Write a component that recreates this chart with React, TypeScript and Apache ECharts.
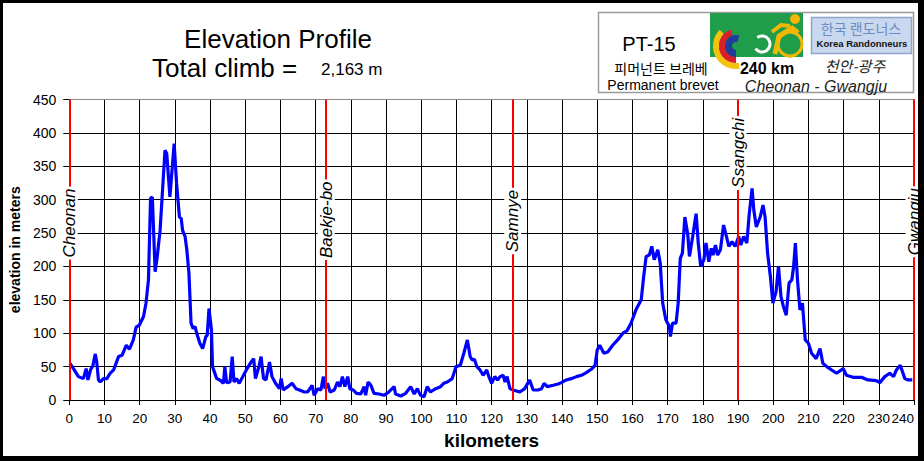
import React, { useEffect, useRef } from "react";
import * as echarts from "echarts";

// ---------- data ----------
const kmPoints: number[] = [
  0.2, 1.2, 2.6, 4, 4.8, 5.3, 6.1, 6.7, 7.4, 7.8, 8.3, 8.8, 9.7, 10.7, 11.6, 12.6, 14, 15, 16.2, 17.1, 18.2, 19, 19.9,
  21.1, 21.8, 22.5, 23.1, 23.6, 24.4, 25, 25.8, 26.5, 27.2, 27.7, 28.6, 29.8, 30.5, 31.3, 31.8, 32.2, 32.9, 33.4, 34,
  34.6, 35.2, 35.7, 36.5, 37.1, 37.9, 38.8, 39.2, 39.7, 40.4, 40.7, 41.9, 42.8, 43.8, 44.2, 44.7, 45.7, 46.3, 46.8,
  47.5, 48.3, 49.3, 50.3, 51.7, 52.4, 52.9, 53.9, 54.5, 55.2, 55.9, 56.9, 57.6, 58.6, 59.7, 60.2, 60.8, 62.1, 63.3,
  64.4, 65.4, 66.8, 67.7, 69, 69.6, 70.6, 71.5, 72.2, 72.7, 73.4, 74.1, 75.3, 76.2, 76.9, 77.6, 78.3, 79.1, 79.7, 80.7,
  81.6, 82.8, 83.8, 84.2, 84.9, 85.7, 86.6, 88, 89.4, 90.8, 92.3, 92.7, 94.2, 95.6, 97, 98, 98.9, 99.8, 100.8, 101.7,
  102.6, 104.1, 105.5, 106.4, 107.4, 108.8, 109.9, 111.1, 112.1, 113.1, 113.9, 114.5, 115.1, 115.8, 116.7, 117.6,
  118.6, 119.2, 120, 120.9, 121.7, 122.4, 123.3, 123.8, 124.4, 125.2, 126.1, 128, 129.4, 130.8, 131.8, 133.2, 134.2,
  134.9, 135.8, 137.5, 138.9, 139.8, 141.2, 142.6, 144.1, 145.5, 146.9, 148.3, 149.4, 150, 150.7, 151.9, 153, 154.4,
  155.8, 157.3, 158.5, 159.6, 161, 162.5, 163.2, 163.9, 164.8, 165.5, 166.2, 167.2, 167.9, 168.6, 169.5, 170.5, 170.8,
  171.4, 172.4, 173, 173.6, 174.2, 174.9, 175.7, 176.2, 177.1, 178.1, 178.7, 179.4, 180.3, 180.9, 181.7, 182.4, 182.9,
  183.6, 184.2, 185, 185.9, 186.7, 187.4, 188.3, 189.2, 190.2, 190.8, 191.6, 192.5, 193.2, 194, 194.5, 195.2, 196.3,
  197.1, 197.7, 198.4, 199.2, 199.9, 200.8, 201.5, 202.2, 202.9, 203.7, 204.5, 205.3, 205.8, 206.3, 206.9, 207.6,
  208.3, 209.1, 210, 210.9, 212.2, 213.3, 214.1, 215.2, 216.6, 218, 219.9, 220.8, 222.7, 225.1, 226.9, 229.3, 230.3,
  231.7, 233.1, 234.2, 235, 236.1, 237.4, 238.3, 239.5,
];
const elevations: number[] = [
  55, 47, 35, 32, 47, 30, 46, 51, 69, 57, 30, 27, 32, 32, 40, 45, 65, 67, 82, 76, 90, 109, 112,
  125, 145, 180, 302, 304, 192, 215, 254, 314, 374, 369, 304, 384, 324, 274, 272, 254, 245, 225, 190,
  115, 107, 110, 95, 85, 77, 95, 97, 137, 105, 50, 32, 30, 25, 50, 26, 27, 65, 27,
  32, 25, 35, 45, 57, 62, 32, 50, 65, 32, 30, 57, 35, 25, 17, 32, 15, 20, 25,
  17, 15, 12, 12, 22, 7, 17, 15, 35, 17, 25, 12, 15, 27, 20, 35, 20, 35, 17, 15,
  10, 9, 20, 7, 27, 22, 10, 9, 7, 12, 20, 9, 6, 10, 20, 9, 17, 7, 5, 20,
  12, 17, 20, 25, 27, 32, 50, 52, 70, 90, 65, 60, 61, 50, 45, 37,
  45, 35, 25, 35, 30, 35, 37, 27, 35, 17, 15, 12, 17, 30, 15, 15, 17,
  25, 20, 22, 24, 26, 30, 32, 35, 37, 41, 46, 52, 75, 82, 70, 72, 82,
  90, 100, 104, 115, 135, 150, 185, 215, 217, 230, 210, 225, 205, 145, 120, 110, 95,
  115, 115, 145, 212, 220, 274, 249, 215, 244, 279, 235, 200, 210, 235, 207, 227, 217,
  232, 217, 225, 262, 245, 230, 237, 230, 245, 232, 245, 235, 279, 317, 284, 259, 274,
  292, 274, 220, 185, 145, 162, 200, 155, 140, 127, 175, 180, 200, 235, 180, 135,
  145, 90, 85, 70, 62, 77, 55, 50, 45, 40, 47, 37, 34, 34, 30, 29, 26,
  35, 40, 35, 45, 52, 32, 30, 30,
];
const checkpointNames: string[] = ["Cheonan", "Baekje-bo", "Samnye", "Ssangchi", "Gwangju"];
const checkpointKm: number[] = [0, 73, 126, 190, 240];
const checkpointLabelElevation: number[] = [265, 270, 268, 370, 267];

const xMin = 0, xMax = 240, xStep = 10;
const yMin = 0, yMax = 450, yStep = 50;

const titleText = "Elevation Profile";
const climbLabel = "Total climb =";
const climbValue = "2,163 m";
const xAxisName = "kilometers";
const yAxisName = "elevation in meters";

const boxTexts = {
  code: "PT-15",
  koreanType: "피머넌트 브레베",
  englishType: "Permanent brevet",
  distance: "240 km",
  koreanRoute: "천안-광주",
  englishRoute: "Cheonan - Gwangju",
  clubKorean: "한국 랜도너스",
  clubEnglish: "Korea Randonneurs",
};

const FONT = 'Arial, "Liberation Sans", Helvetica, sans-serif';
const CJK = '"Noto Sans CJK KR", "Noto Sans", sans-serif';

export default function App() {
  const ref = useRef<HTMLDivElement>(null);
  useEffect(() => {
    document.body.style.margin = "0";
    if (!ref.current) return;
    const chart = echarts.init(ref.current, undefined, { renderer: "svg" });
    const profile = kmPoints.map((k, i) => [k, elevations[i]]);
    const yellow = "#f2b705";
    const baseGraphics: any[] = [
      // titles
      { type: "text", x: 278, y: 39, z: 10, style: { text: titleText, font: `26px ${FONT}`, fill: "#000", align: "center", verticalAlign: "middle" } },
      { type: "text", x: 152, y: 68, z: 10, style: { text: climbLabel, font: `26px ${FONT}`, fill: "#000", align: "left", verticalAlign: "middle" } },
      { type: "text", x: 321, y: 69, z: 10, style: { text: climbValue, font: `17px ${FONT}`, fill: "#000", align: "left", verticalAlign: "middle" } },
      // info box
      { type: "rect", z: 10, shape: { x: 598.5, y: 12.5, width: 315, height: 80 }, style: { fill: "#fff", stroke: "#9a9a9a", lineWidth: 1.5 } },
      { type: "text", x: 649, y: 44, z: 11, style: { text: boxTexts.code, font: `20px ${FONT}`, fill: "#000", align: "center", verticalAlign: "middle" } },
      { type: "text", x: 661, y: 68, z: 11, style: { text: boxTexts.koreanType, font: `14px ${CJK}`, fill: "#000", align: "center", verticalAlign: "middle" } },
      { type: "text", x: 663, y: 85, z: 11, style: { text: boxTexts.englishType, font: `14px ${FONT}`, fill: "#000", align: "center", verticalAlign: "middle" } },
      { type: "text", x: 767, y: 68, z: 11, style: { text: boxTexts.distance, font: `bold 16px ${FONT}`, fill: "#000", align: "center", verticalAlign: "middle" } },
      { type: "text", x: 855, y: 65, z: 11, style: { text: boxTexts.koreanRoute, font: `italic 15px ${CJK}`, fill: "#222", align: "center", verticalAlign: "middle" } },
      { type: "text", x: 816, y: 86, z: 11, style: { text: boxTexts.englishRoute, font: `italic 16px ${FONT}`, fill: "#222", align: "center", verticalAlign: "middle" } },
      // club box
      { type: "rect", z: 11, shape: { x: 811.5, y: 17.5, width: 100, height: 36 }, style: { fill: "#c9d8ee", stroke: "#8ea7c9", lineWidth: 1.5 } },
      { type: "text", x: 861, y: 28, z: 12, style: { text: boxTexts.clubKorean, font: `14px ${CJK}`, fill: "#6a8cc4", align: "center", verticalAlign: "middle" } },
      { type: "text", x: 862, y: 43, z: 12, style: { text: boxTexts.clubEnglish, font: `bold 9.5px ${FONT}`, fill: "#111", align: "center", verticalAlign: "middle" } },
      // green logo
      { type: "rect", z: 11, shape: { x: 710, y: 13, width: 93, height: 44 }, style: { fill: "#1f9d4b" } },
      { type: "sector", z: 12, shape: { cx: 736, cy: 46, r: 23, r0: 17, startAngle: Math.PI * 0.45, endAngle: Math.PI * 1.25, clockwise: true }, style: { fill: "#f4c20d" } },
      { type: "sector", z: 12, shape: { cx: 736, cy: 46, r: 17, r0: 11, startAngle: Math.PI * 0.5, endAngle: Math.PI * 1.4, clockwise: true }, style: { fill: "#d8202a" } },
      { type: "sector", z: 12, shape: { cx: 736, cy: 46, r: 11, r0: 4, startAngle: Math.PI * 0.5, endAngle: Math.PI * 1.6, clockwise: true }, style: { fill: "#1f3d9a" } },
      { type: "arc", z: 12, shape: { cx: 762, cy: 44, r: 8, startAngle: -Math.PI * 0.7, endAngle: Math.PI * 0.8, clockwise: true }, style: { stroke: "#fff", lineWidth: 3, fill: "none" } },
      { type: "circle", z: 12, shape: { cx: 790, cy: 44, r: 12 }, style: { fill: "none", stroke: yellow, lineWidth: 3 } },
      { type: "circle", z: 12, shape: { cx: 795, cy: 19, r: 5 }, style: { fill: yellow } },
      { type: "polyline", z: 12, shape: { points: [[775, 54], [779, 36], [792, 28], [798, 33]] }, style: { stroke: yellow, lineWidth: 5, fill: "none" } },
      { type: "polyline", z: 12, shape: { points: [[772, 32], [781, 25], [790, 26]] }, style: { stroke: yellow, lineWidth: 4, fill: "none" } },
      // outer frame
      { type: "rect", z: 20, shape: { x: 0, y: 0, width: 924, height: 3 }, style: { fill: "#000" } },
      { type: "rect", z: 20, shape: { x: 0, y: 0, width: 3, height: 461 }, style: { fill: "#000" } },
      { type: "rect", z: 20, shape: { x: 918, y: 0, width: 6, height: 461 }, style: { fill: "#000" } },
      { type: "rect", z: 20, shape: { x: 0, y: 456, width: 924, height: 5 }, style: { fill: "#000" } },
    ];
    const option: any = {
      animation: false,
      backgroundColor: "#ffffff",
      grid: { left: 66, right: 10, top: 99.5, bottom: 61 },
      xAxis: {
        type: "value",
        min: xMin,
        max: xMax,
        interval: xStep,
        name: xAxisName,
        nameLocation: "middle",
        nameGap: 31,
        nameTextStyle: { fontFamily: FONT, fontSize: 19, fontWeight: "bold", color: "#000" },
        axisLine: { show: true, lineStyle: { color: "#000", width: 1 } },
        axisTick: { show: true, length: 5, lineStyle: { color: "#000" } },
        axisLabel: { color: "#000", fontSize: 13.5, fontFamily: FONT, margin: 11, alignMaxLabel: "right" },
        splitLine: { show: true, lineStyle: { color: "#000", width: 1 } },
      },
      yAxis: {
        type: "value",
        min: yMin,
        max: yMax,
        interval: yStep,
        name: yAxisName,
        nameLocation: "middle",
        nameRotate: 90,
        nameGap: 44,
        nameTextStyle: { fontFamily: FONT, fontSize: 14, fontWeight: "bold", color: "#000" },
        axisLine: { show: true, lineStyle: { color: "#000", width: 1 } },
        axisTick: { show: true, length: 6, lineStyle: { color: "#000" } },
        axisLabel: { color: "#000", fontSize: 14, fontFamily: FONT, margin: 13 },
        splitLine: { show: true, lineStyle: { color: "#000", width: 1 } },
      },
      series: [
        {
          type: "line",
          data: [],
          z: 2,
          silent: true,
          markLine: {
            silent: true,
            symbol: ["none", "none"],
            label: { show: false },
            animation: false,
            data: [
              { yAxis: yMax, lineStyle: { color: "#8c8c8c", width: 1, type: "solid" } },
              ...checkpointKm.map((k) => ({ xAxis: k, lineStyle: { color: "#ff0000", width: 2, type: "solid" } })),
            ],
          },
        },
        {
          type: "line",
          data: profile,
          z: 3,
          showSymbol: false,
          symbol: "none",
          lineStyle: { color: "#0000ff", width: 3.2 },
        },
      ],
      graphic: baseGraphics,
    };
    chart.setOption(option);
    // checkpoint names, placed through the chart's own scales
    const labelGraphics = checkpointKm.map((k, i) => {
      const p = chart.convertToPixel({ gridIndex: 0 }, [k, checkpointLabelElevation[i]]) as number[];
      return {
        type: "text",
        x: p[0],
        y: p[1],
        rotation: Math.PI / 2,
        z: 15,
        style: {
          text: checkpointNames[i],
          font: `italic 17px ${FONT}`,
          fill: "#000",
          align: "center",
          verticalAlign: "middle",
          backgroundColor: "#ffffff",
          padding: [0, 2],
        },
      };
    });
    chart.setOption({ graphic: [...baseGraphics, ...labelGraphics] });
    return () => chart.dispose();
  }, []);
  return (
    <div
      ref={ref}
      style={{ position: "absolute", left: 0, top: 0, width: 924, height: 461, background: "#fff" }}
    />
  );
}
